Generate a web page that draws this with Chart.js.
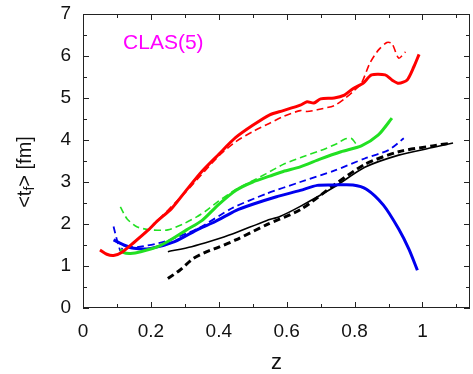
<!DOCTYPE html>
<html>
<head>
<meta charset="utf-8">
<script src="https://cdn.jsdelivr.net/npm/chart.js@4/dist/chart.umd.min.js"></script>
<style>
  body { margin: 0; background: #fff; }
  #wrap { width: 473px; height: 374px; }
</style>
</head>
<body>
<div id="wrap"><canvas id="myChart"></canvas></div>
<script>
// values, z on x, <t_f> in fm on y
const redSolidZ = [0.05, 0.07, 0.09, 0.115, 0.15, 0.19, 0.22, 0.26, 0.30, 0.35, 0.40, 0.45, 0.50, 0.55, 0.59, 0.64, 0.66, 0.68, 0.70, 0.74, 0.77, 0.795, 0.825, 0.85, 0.89, 0.91, 0.93, 0.955, 0.975, 0.99];
const redSolidT = [1.38, 1.28, 1.25, 1.33, 1.56, 1.84, 2.08, 2.36, 2.76, 3.25, 3.66, 4.06, 4.35, 4.60, 4.70, 4.83, 4.91, 4.88, 4.98, 5.00, 5.07, 5.22, 5.35, 5.55, 5.55, 5.43, 5.35, 5.43, 5.75, 6.04];

const redDashZ = [0.20, 0.30, 0.40, 0.45, 0.50, 0.55, 0.59, 0.64, 0.66, 0.69, 0.74, 0.77, 0.795, 0.82, 0.845, 0.87, 0.895, 0.91, 0.93, 0.95];
const redDashT = [1.92, 2.74, 3.62, 3.96, 4.20, 4.40, 4.56, 4.70, 4.68, 4.72, 4.82, 4.98, 5.15, 5.35, 5.83, 6.14, 6.32, 6.30, 5.95, 6.10];

const greenSolidZ = [0.11, 0.12, 0.14, 0.17, 0.22, 0.26, 0.305, 0.35, 0.40, 0.45, 0.50, 0.55, 0.59, 0.64, 0.70, 0.76, 0.82, 0.87, 0.91];
const greenSolidT = [1.40, 1.32, 1.30, 1.34, 1.46, 1.63, 1.86, 2.08, 2.47, 2.80, 3.00, 3.14, 3.25, 3.36, 3.55, 3.72, 3.86, 4.12, 4.52];

const greenDashZ = [0.11, 0.13, 0.16, 0.20, 0.25, 0.295, 0.335, 0.36, 0.40, 0.45, 0.50, 0.54, 0.59, 0.64, 0.70, 0.75, 0.77, 0.79, 0.805];
const greenDashT = [2.41, 2.12, 1.93, 1.86, 1.86, 2.00, 2.17, 2.30, 2.55, 2.82, 3.03, 3.20, 3.42, 3.58, 3.75, 3.92, 4.02, 4.04, 3.90];

const blueSolidZ = [0.09, 0.12, 0.15, 0.20, 0.27, 0.34, 0.39, 0.45, 0.50, 0.57, 0.64, 0.69, 0.74, 0.795, 0.835, 0.885, 0.93, 0.96, 0.985];
const blueSolidT = [1.62, 1.50, 1.42, 1.42, 1.58, 1.88, 2.06, 2.32, 2.47, 2.65, 2.80, 2.92, 2.93, 2.93, 2.83, 2.45, 1.88, 1.40, 0.90];

const blueDashZ = [0.09, 0.10, 0.105, 0.11, 0.12, 0.16, 0.24, 0.34, 0.44, 0.54, 0.64, 0.74, 0.83, 0.90, 0.945];
const blueDashT = [1.94, 1.62, 1.50, 1.36, 1.46, 1.45, 1.58, 1.90, 2.38, 2.72, 3.00, 3.27, 3.56, 3.76, 4.04];

const blackSolidZ = [0.25, 0.32, 0.38, 0.44, 0.54, 0.58, 0.64, 0.74, 0.83, 0.93, 1.03, 1.09];
const blackSolidT = [1.34, 1.46, 1.60, 1.76, 2.08, 2.18, 2.42, 2.88, 3.35, 3.64, 3.82, 3.93];

const blackDashZ = [0.25, 0.285, 0.325, 0.365, 0.40, 0.45, 0.54, 0.64, 0.74, 0.83, 0.93, 1.03, 1.08];
const blackDashT = [0.70, 0.90, 1.18, 1.34, 1.45, 1.62, 1.98, 2.34, 2.93, 3.42, 3.72, 3.86, 3.92];

const xMin = 0, xMax = 1.14, yMin = 0, yMax = 7;
const xMajor = 0.2, xMinor = 0.1, yMajor = 1, yMinor = 0.5;
const plotLabel = "CLAS(5)";

function pts(zs, ts) {
  return zs.map((z, i) => ({ x: z, y: ts[i] }));
}

function series(zs, ts, color, width, dashed) {
  return {
    data: pts(zs, ts),
    borderColor: color,
    borderWidth: width,
    borderDash: dashed ? [7, 4] : [],
    pointRadius: 0,
    tension: 0.25,
    fill: false
  };
}

const FONT = "'Liberation Sans', Arial, sans-serif";

// gnuplot style frame with inward ticks, the y title with its subscript and the tag
const framePlugin = {
  id: "frame",
  afterDraw(chart) {
    const c = chart.ctx;
    const a = chart.chartArea;
    const xs = chart.scales.x, ys = chart.scales.y;
    c.save();
    c.strokeStyle = "#222";
    c.lineWidth = 1;
    c.strokeRect(a.left + 0.5, a.top + 0.5, a.right - a.left - 1, a.bottom - a.top - 1);
    c.beginPath();
    for (let v = xMin; v <= xMax + 1e-9; v += xMinor) {
      const major = Math.abs(v / xMajor - Math.round(v / xMajor)) < 1e-6;
      const len = major ? 6 : 4;
      const px = Math.round(xs.getPixelForValue(v)) + 0.5;
      c.moveTo(px, a.bottom); c.lineTo(px, a.bottom - len);
      c.moveTo(px, a.top); c.lineTo(px, a.top + len);
    }
    for (let v = yMin; v <= yMax + 1e-9; v += yMinor) {
      const major = Math.abs(v / yMajor - Math.round(v / yMajor)) < 1e-6;
      const len = major ? 6 : 4;
      const py = Math.round(ys.getPixelForValue(v)) + 0.5;
      c.moveTo(a.left, py); c.lineTo(a.left + len, py);
      c.moveTo(a.right, py); c.lineTo(a.right - len, py);
    }
    c.stroke();

    // y axis title: <t_f> [fm]
    c.translate(25, (a.top + a.bottom) / 2 + 11);
    c.rotate(-Math.PI / 2);
    c.fillStyle = "#111";
    c.textBaseline = "middle";
    const big = "20px " + FONT, small = "14px " + FONT;
    const parts = [["<t", big, 0], ["f", small, 5], ["> [fm]", big, 0]];
    let w = 0;
    parts.forEach(p => { c.font = p[1]; w += c.measureText(p[0]).width; });
    let x = -w / 2;
    parts.forEach(p => {
      c.font = p[1];
      c.fillText(p[0], x, p[2]);
      x += c.measureText(p[0]).width;
    });
    c.restore();

    c.save();
    c.fillStyle = "#ff00ff";
    c.font = "21px " + FONT;
    c.textBaseline = "middle";
    c.textAlign = "left";
    c.fillText(plotLabel, xs.getPixelForValue(0.118), ys.getPixelForValue(6.31));
    c.restore();
  }
};

const ctx = document.getElementById("myChart").getContext("2d");

const config = {
  type: "line",
  data: {
    datasets: [
      series(redSolidZ, redSolidT, "#ff0000", 3, false),
      series(redDashZ, redDashT, "#ff0000", 1.6, true),
      series(greenSolidZ, greenSolidT, "#22e022", 3, false),
      series(greenDashZ, greenDashT, "#22e022", 1.6, true),
      series(blueSolidZ, blueSolidT, "#0000ee", 3, false),
      series(blueDashZ, blueDashT, "#0000ee", 1.8, true),
      series(blackSolidZ, blackSolidT, "#000000", 1.6, false),
      series(blackDashZ, blackDashT, "#000000", 3, true)
    ]
  },
  options: {
    responsive: true,
    maintainAspectRatio: false,
    animation: false,
    layout: { padding: { left: 0, right: 3, top: 14, bottom: 0 } },
    plugins: {
      legend: { display: false },
      tooltip: { enabled: false }
    },
    scales: {
      x: {
        type: "linear",
        min: xMin,
        max: xMax,
        grid: { display: false, drawTicks: false },
        border: { display: false },
        ticks: {
          stepSize: xMajor,
          includeBounds: false,
          padding: 12,
          color: "#111",
          font: { family: FONT, size: 19 },
          callback: v => String(+v.toFixed(2))
        },
        title: {
          display: true,
          text: "z",
          color: "#111",
          font: { family: FONT, size: 22, lineHeight: 1 },
          padding: { top: 0, bottom: 0 }
        },
        afterFit(scale) {
          scale.height = 66;
          scale.paddingLeft = 0;
          scale.paddingRight = 0;
        }
      },
      y: {
        type: "linear",
        min: yMin,
        max: yMax,
        grid: { display: false, drawTicks: false },
        border: { display: false },
        ticks: {
          stepSize: yMajor,
          padding: 12,
          color: "#111",
          font: { family: FONT, size: 19 }
        },
        afterFit(scale) {
          scale.width = 83;
          scale.paddingTop = 0;
          scale.paddingBottom = 0;
        }
      }
    }
  },
  plugins: [framePlugin]
};

const myChart = new Chart(ctx, config);
</script>
</body>
</html>
